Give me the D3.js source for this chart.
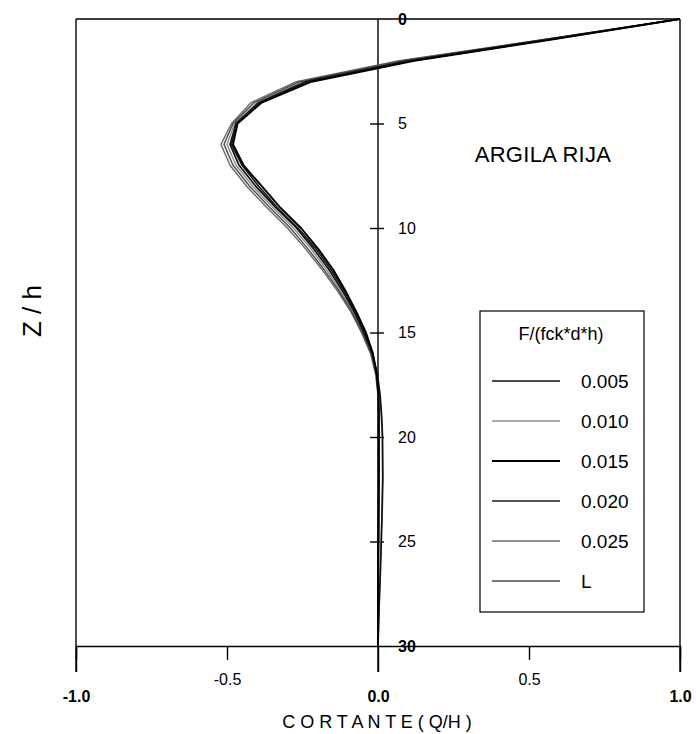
<!DOCTYPE html>
<html>
<head>
<meta charset="utf-8">
<script src="https://cdn.jsdelivr.net/npm/d3@7"></script>
<style>
  html, body { margin: 0; padding: 0; background: #fff; }
  svg { display: block; }
  text { font-family: "Liberation Sans", Arial, Helvetica, sans-serif; fill: #000; }
</style>
</head>
<body>
<svg id="chart" width="696" height="734"></svg>
<script>
// ---------------- DATA ----------------
const depth = [0, 1, 2, 3, 4, 5, 6, 7, 8, 9, 10, 11, 12, 13, 14, 15, 16, 17, 18, 19, 20, 22, 24, 26, 28, 30];

const seriesNames = ["0.005", "0.010", "0.015", "0.020", "0.025", "L"];

const q005 = [1.0, 0.56, 0.11, -0.23, -0.39, -0.47, -0.49, -0.46, -0.405, -0.34, -0.27, -0.213, -0.162, -0.118, -0.079, -0.047, -0.019, -0.002, 0.007, 0.012, 0.015, 0.016, 0.013, 0.009, 0.004, 0.0];
const q010 = [1.0, 0.54, 0.09, -0.25, -0.40, -0.475, -0.50, -0.47, -0.415, -0.35, -0.28, -0.222, -0.17, -0.125, -0.083, -0.05, -0.02, -0.003, 0.006, 0.011, 0.014, 0.015, 0.012, 0.008, 0.004, 0.0];
const q015 = [1.0, 0.57, 0.12, -0.22, -0.385, -0.465, -0.48, -0.445, -0.385, -0.325, -0.255, -0.198, -0.148, -0.108, -0.072, -0.04, -0.017, -0.004, 0.001, 0.002, 0.002, 0.002, 0.001, 0.0, 0.0, 0.0];
const q020 = [1.0, 0.55, 0.10, -0.24, -0.395, -0.47, -0.485, -0.45, -0.395, -0.335, -0.265, -0.205, -0.155, -0.112, -0.075, -0.043, -0.018, -0.004, 0.002, 0.003, 0.003, 0.003, 0.002, 0.001, 0.0, 0.0];
const q025 = [1.0, 0.54, 0.07, -0.27, -0.42, -0.485, -0.52, -0.49, -0.435, -0.37, -0.30, -0.24, -0.185, -0.135, -0.09, -0.055, -0.025, -0.008, 0.0, 0.002, 0.003, 0.003, 0.002, 0.001, 0.0, 0.0];
const qL   = [1.0, 0.55, 0.08, -0.26, -0.41, -0.48, -0.51, -0.48, -0.425, -0.36, -0.29, -0.232, -0.178, -0.13, -0.087, -0.052, -0.023, -0.006, 0.002, 0.004, 0.004, 0.004, 0.003, 0.002, 0.001, 0.0];

const xTicks = [-1.0, -0.5, 0.0, 0.5, 1.0];
const yTicks = [0, 5, 10, 15, 20, 25, 30];

const chartTitle = "ARGILA RIJA";
const legendTitle = "F/(fck*d*h)";
const xTitle = "C O R T A N T E ( Q/H )";
const yTitle = "Z / h";

// ---------------- STYLE ----------------
const styles = {
  "0.005": { color: "#111111", width: 1.7 },
  "0.010": { color: "#8c8c8c", width: 1.4 },
  "0.015": { color: "#000000", width: 1.9 },
  "0.020": { color: "#1a1a1a", width: 1.7 },
  "0.025": { color: "#6a6a6a", width: 1.4 },
  "L":     { color: "#4d4d4d", width: 1.4 }
};

const seriesValues = { "0.005": q005, "0.010": q010, "0.015": q015, "0.020": q020, "0.025": q025, "L": qL };

// ---------------- LAYOUT ----------------
const svg = d3.select("#chart");
const pLeft = 76, pRight = 680, pTop = 19, pBottom = 646;
const x = d3.scaleLinear().domain([-1, 1]).range([pLeft, pRight]);
const y = d3.scaleLinear().domain([0, 30]).range([pTop, pBottom]);
const axisExt = 26; // how far frame lines continue below the bottom axis

svg.append("rect").attr("width", 696).attr("height", 734).attr("fill", "#fff");

// frame
const frame = svg.append("g").attr("stroke", "#000").attr("stroke-width", 1.4).attr("fill", "none");
frame.append("line").attr("x1", pLeft).attr("x2", pRight).attr("y1", pTop).attr("y2", pTop);
frame.append("line").attr("x1", pLeft).attr("x2", pLeft).attr("y1", pTop).attr("y2", pBottom + axisExt);
frame.append("line").attr("x1", pRight).attr("x2", pRight).attr("y1", pTop).attr("y2", pBottom + axisExt);
frame.append("line").attr("x1", x(0)).attr("x2", x(0)).attr("y1", pTop).attr("y2", pBottom + axisExt);

// bottom axis
const xAxis = d3.axisBottom(x).tickValues(xTicks).tickSize(14).tickFormat(d3.format(".1f"));
const gx = svg.append("g").attr("transform", `translate(0,${pBottom})`).call(xAxis);
gx.select(".domain").attr("stroke", "#000").attr("stroke-width", 1.4);
gx.selectAll(".tick line").attr("stroke", "#000").attr("stroke-width", 1.4)
  .attr("y2", d => (d === -0.5 || d === 0.5) ? 14 : axisExt);
gx.selectAll(".tick text")
  .attr("font-size", 16)
  .attr("font-family", "Liberation Sans, Arial, sans-serif")
  .attr("font-weight", d => (d === -0.5 || d === 0.5) ? "normal" : "bold")
  .attr("y", d => (d === -0.5 || d === 0.5) ? 34 : 51)
  .attr("dy", "0.32em")
  .text(d => d3.format(".1f")(d).replace("\u2212", "-"));

// vertical axis ticks on x=0
const yAxis = d3.axisRight(y).tickValues(yTicks).tickSize(6).tickPadding(14);
const gy = svg.append("g").attr("transform", `translate(${x(0)},0)`).call(yAxis);
gy.select(".domain").remove();
gy.selectAll(".tick line").attr("stroke", "#000").attr("stroke-width", 1.4)
  .attr("x1", -8)
  .attr("display", d => (d === 0 || d === 30) ? "none" : null);
gy.selectAll(".tick text")
  .attr("font-size", 16)
  .attr("font-family", "Liberation Sans, Arial, sans-serif")
  .attr("font-weight", d => (d === 0 || d === 30) ? "bold" : "normal");

// curves
const line = d3.line().x(d => x(d[1])).y(d => y(d[0])).curve(d3.curveLinear);
const drawOrder = ["0.010", "0.025", "L", "0.005", "0.020", "0.015"];
svg.append("g").selectAll("path")
  .data(drawOrder)
  .join("path")
  .attr("fill", "none")
  .attr("stroke", k => styles[k].color)
  .attr("stroke-width", k => styles[k].width)
  .attr("stroke-linejoin", "round")
  .attr("d", k => line(depth.map((z, i) => [z, seriesValues[k][i]])));

// chart annotation
svg.append("text").attr("x", 543).attr("y", 154).attr("dy", "0.35em")
  .attr("text-anchor", "middle").attr("font-size", 22).attr("letter-spacing", 0.3)
  .text(chartTitle);

// legend
const lg = svg.append("g");
lg.append("rect").attr("x", 480).attr("y", 311).attr("width", 164).attr("height", 301)
  .attr("fill", "#fff").attr("stroke", "#000").attr("stroke-width", 1.2);
lg.append("text").attr("x", 561).attr("y", 334).attr("dy", "0.35em")
  .attr("text-anchor", "middle").attr("font-size", 18).text(legendTitle);
const rows = lg.selectAll("g.row").data(seriesNames).join("g")
  .attr("transform", (d, i) => `translate(0,${381 + i * 40})`);
rows.append("line").attr("x1", 492).attr("x2", 560).attr("y1", 0).attr("y2", 0)
  .attr("stroke", d => styles[d].color).attr("stroke-width", d => styles[d].width);
rows.append("text").attr("x", 581).attr("y", 0).attr("dy", "0.35em")
  .attr("font-size", 19).text(d => d);

// axis titles
svg.append("text").attr("x", 377).attr("y", 722).attr("dy", "0.35em")
  .attr("text-anchor", "middle").attr("font-size", 18).text(xTitle);
svg.append("text").attr("transform", "translate(32,311) rotate(-90)").attr("dy", "0.35em")
  .attr("text-anchor", "middle").attr("font-size", 26).text(yTitle);
</script>
</body>
</html>
